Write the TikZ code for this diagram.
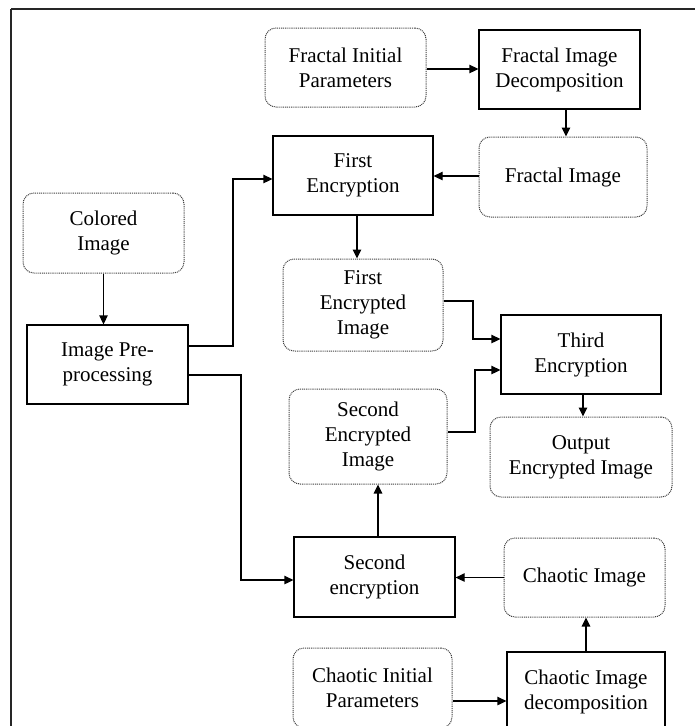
\documentclass[tikz,border=0pt]{standalone}
\usepackage{fontspec}
\setmainfont{Liberation Serif}
\usetikzlibrary{arrows.meta}
\begin{document}
\begin{tikzpicture}[x=1pt,y=-1pt,
  every node/.style={font=\fontsize{21}{25}\selectfont, align=center, inner sep=0pt},
  dotbox/.style={draw=black!75, line width=1pt, dash pattern=on 1pt off 0.9pt, rounded corners=11pt},
  solidbox/.style={draw=black, line width=1.3pt},
  conn/.style={draw=black, line width=1.3pt, -{Triangle[length=9pt,width=8.5pt]}}
]
\useasboundingbox (0,0) rectangle (695,726);
\draw[line width=1.4pt, black!85] (11,9) -- (720,9);
\draw[line width=1.4pt, black!85] (11,9) -- (11,740);

\node[dotbox, minimum width=161pt, minimum height=79pt] (fip) at (345.5,67.5) {Fractal Initial\\Parameters};
\node[solidbox, minimum width=161pt, minimum height=79pt] (fid) at (559.5,69.5) {Fractal Image\\Decomposition};
\node[dotbox, minimum width=168pt, minimum height=80pt] (fimg) at (563,177) {Fractal Image};
\node[solidbox, minimum width=160pt, minimum height=79pt] (fenc) at (353,175.5) {First\\Encryption};
\node[dotbox, minimum width=161pt, minimum height=80pt] (col) at (103.5,233) {Colored\\Image};
\node[solidbox, minimum width=161pt, minimum height=79pt] (ipp) at (107.5,364.5) {Image Pre-\\processing};
\node[dotbox, minimum width=160pt, minimum height=92pt] (fei) at (363,305) {First\\Encrypted\\Image};
\node[dotbox, minimum width=158pt, minimum height=95pt] (sei) at (368,436.5) {Second\\Encrypted\\Image};
\node[solidbox, minimum width=160pt, minimum height=79pt] (tenc) at (581,354.5) {Third\\Encryption};
\node[dotbox, minimum width=182pt, minimum height=80pt] (out) at (581,457) {Output\\Encrypted Image};
\node[solidbox, minimum width=161pt, minimum height=80pt] (senc) at (374.5,577) {Second\\encryption};
\node[dotbox, minimum width=161pt, minimum height=79pt] (cimg) at (584.5,577.5) {Chaotic Image};
\node[dotbox, minimum width=159pt, minimum height=80pt] (cip) at (372.5,688) {Chaotic Initial\\Parameters};
\node[solidbox, minimum width=158pt, minimum height=80pt] (cid) at (586,692) {Chaotic Image\\decomposition};

\coordinate (a1) at (233,346);
\coordinate (a2) at (233,179);
\coordinate (b1) at (241,375);
\coordinate (b2) at (241,580);
\coordinate (c1) at (473,301);
\coordinate (c2) at (473,339);
\coordinate (d1) at (475,432);
\coordinate (d2) at (475,370);

\draw[conn] ([yshift=-1.5pt]fip.east) -- ([yshift=-1.5pt]fip.east -| fid.west);
\draw[conn] ([xshift=6.5pt]fid.south) -- ([xshift=6.5pt]fid.south |- fimg.north);
\draw[conn] ([yshift=1pt]fimg.west) -- ([yshift=1pt]fimg.west -| fenc.east);
\draw[conn] ([xshift=4pt]fenc.south) -- ([xshift=4pt]fenc.south |- fei.north);
\draw[conn] (col.south) -- (col.south |- ipp.north);
\draw[conn] (ipp.east |- a1) -- (a1) -- (a2) -- (a2 -| fenc.west);
\draw[conn] (ipp.east |- b1) -- (b1) -- (b2) -- (b2 -| senc.west);
\draw[conn] (fei.east |- c1) -- (c1) -- (c2) -- (c2 -| tenc.west);
\draw[conn] (sei.east |- d1) -- (d1) -- (d2) -- (d2 -| tenc.west);
\draw[conn] ([xshift=2pt]tenc.south) -- ([xshift=2pt]tenc.south |- out.north);
\draw[conn] ([xshift=3.5pt]senc.north) -- ([xshift=3.5pt]senc.north |- sei.south);
\draw[conn] (cimg.west) -- (cimg.west -| senc.east);
\draw[conn] ([yshift=-13pt]cip.east) -- ([yshift=-13pt]cip.east -| cid.west);
\draw[conn] (cid.north) -- (cid.north |- cimg.south);
\end{tikzpicture}
\end{document}
